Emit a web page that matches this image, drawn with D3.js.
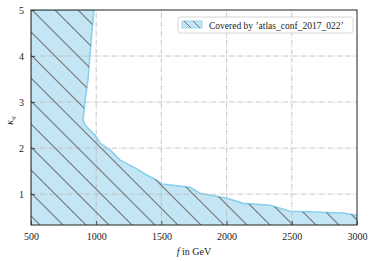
<!DOCTYPE html>
<html>
<head>
<meta charset="utf-8">
<title>atlas_conf_2017_022</title>
<style>
  body { margin: 0; background: #fff; }
  svg text { font-family: "Liberation Serif", "DejaVu Serif", serif; fill: #222; }
</style>
</head>
<body>
<main></main>
<script src="https://cdn.jsdelivr.net/npm/d3@7"></script>
<script>
// boundary of the covered region (f in GeV, kappa_q)
var boundaryF = [983, 968, 952, 937, 914, 899, 914, 952, 991, 1029, 1106, 1183, 1298, 1390, 1466, 1505, 1720, 1796, 2003, 2126, 2333, 2487, 2893, 3000];
var boundaryK = [5.0, 4.57, 4.0, 3.48, 3.02, 2.61, 2.50, 2.39, 2.28, 2.11, 1.96, 1.74, 1.57, 1.41, 1.30, 1.22, 1.15, 1.02, 0.91, 0.80, 0.76, 0.63, 0.59, 0.54];

var xTicks = [500, 1000, 1500, 2000, 2500, 3000];
var yTicks = [1, 2, 3, 4, 5];
var legendLabel = "Covered by \u2019atlas_conf_2017_022\u2019";

var width = 374, height = 261;
var margin = {top: 10, right: 17, bottom: 36, left: 31};

var svg = d3.select("main").append("svg")
    .attr("width", width)
    .attr("height", height);

var x = d3.scaleLinear().domain([500, 3000]).range([margin.left, width - margin.right]);
var y = d3.scaleLinear().domain([0.33, 5]).range([height - margin.bottom, margin.top]);

// hatch pattern + clip
var defs = svg.append("defs");
var pat = defs.append("pattern")
    .attr("id", "hatch")
    .attr("patternUnits", "userSpaceOnUse")
    .attr("width", 23).attr("height", 23)
    .attr("x", -1);
pat.append("path")
    .attr("d", "M0,0L23,23M-23,0L0,23M23,0L46,23M0,-23L23,0M0,23L23,46")
    .attr("stroke", "#727272")
    .attr("stroke-width", 1.1);

defs.append("clipPath").attr("id", "plotclip")
  .append("rect")
    .attr("x", x(500)).attr("y", y(5))
    .attr("width", x(3000) - x(500)).attr("height", y(0.33) - y(5));

// polygon: left edge, along boundary, down to bottom
var pts = [[500, 0.33], [500, 5]];
boundaryF.forEach(function (f, i) { pts.push([f, boundaryK[i]]); });
pts.push([3000, 0.33]);

var area = d3.line()
    .x(function (d) { return x(d[0]); })
    .y(function (d) { return y(d[1]); });

var plot = svg.append("g").attr("clip-path", "url(#plotclip)");

plot.append("path")
    .datum(pts)
    .attr("d", area)
    .attr("fill", "#c4e5f4")
    .attr("stroke", "#88d0ee")
    .attr("stroke-width", 1.6);

// grid (dash-dot)
var gridStyle = function (sel) {
  sel.attr("stroke", "#b8b8b8")
     .attr("stroke-width", 0.8)
     .attr("stroke-dasharray", "5,1.5,1,1.5");
};
plot.selectAll("line.gx")
    .data(xTicks.slice(1, -1))
    .enter().append("line")
    .attr("class", "gx")
    .attr("x1", function (d) { return x(d); })
    .attr("x2", function (d) { return x(d); })
    .attr("y1", y(0.33)).attr("y2", y(5))
    .call(gridStyle);
plot.selectAll("line.gy")
    .data(yTicks.slice(0, -1))
    .enter().append("line")
    .attr("class", "gy")
    .attr("y1", function (d) { return y(d); })
    .attr("y2", function (d) { return y(d); })
    .attr("x1", x(500)).attr("x2", x(3000))
    .call(gridStyle);

// hatch on top
plot.append("path")
    .datum(pts)
    .attr("d", area)
    .attr("fill", "url(#hatch)")
    .attr("stroke", "none");

// axes, ticks pointing inward
var xAxis = d3.axisBottom(x).tickValues(xTicks).tickSize(-4).tickPadding(8).tickFormat(d3.format("d"));
var xMinor = d3.axisBottom(x).tickValues(d3.range(500, 3001, 100)).tickSize(-2).tickFormat("");
var yAxis = d3.axisLeft(y).tickValues(yTicks).tickSize(-4).tickPadding(7).tickFormat(d3.format("d"));
var yMinor = d3.axisLeft(y).tickValues(d3.range(0.4, 5.01, 0.2)).tickSize(-2).tickFormat("");

var gx = svg.append("g").attr("transform", "translate(0," + y(0.33) + ")");
gx.call(xMinor);
gx.call(xAxis);
var gy = svg.append("g").attr("transform", "translate(" + x(500) + ",0)");
gy.call(yMinor);
gy.call(yAxis);

svg.selectAll(".domain").remove();
svg.selectAll(".tick line").attr("stroke", "#333").attr("stroke-width", 0.8);
svg.selectAll(".tick text").attr("font-size", 10).attr("font-family", "Liberation Serif, serif").attr("fill", "#333");

// frame
svg.append("rect")
    .attr("x", x(500)).attr("y", y(5))
    .attr("width", x(3000) - x(500)).attr("height", y(0.33) - y(5))
    .attr("fill", "none").attr("stroke", "#222").attr("stroke-width", 1);

// axis labels
var xl = svg.append("text")
    .attr("x", (x(500) + x(3000)) / 2)
    .attr("y", 255)
    .attr("text-anchor", "middle")
    .attr("font-size", 10);
xl.append("tspan").attr("font-style", "italic").text("f");
xl.append("tspan").text(" in GeV");

var yl = svg.append("text")
    .attr("transform", "translate(13," + y(2.6) + ") rotate(-90)")
    .attr("text-anchor", "middle")
    .attr("font-size", 10);
yl.append("tspan").attr("font-style", "italic").text("\u03ba");
yl.append("tspan").attr("font-style", "italic").attr("font-size", 7).attr("dy", 2).text("q");

// legend
var lg = svg.append("g").attr("transform", "translate(178,17)");
lg.append("rect")
    .attr("width", 175).attr("height", 16).attr("rx", 2)
    .attr("fill", "#fff").attr("fill-opacity", 0.85)
    .attr("stroke", "#ccc").attr("stroke-width", 0.8);
lg.append("rect")
    .attr("x", 4).attr("y", 4).attr("width", 20).attr("height", 7)
    .attr("fill", "#c4e5f4").attr("stroke", "#88d0ee").attr("stroke-width", 0.8);
lg.selectAll("line.lh")
    .data([0, 9])
    .enter().append("line")
    .attr("x1", function (d) { return 6 + d; }).attr("y1", 4)
    .attr("x2", function (d) { return 13 + d; }).attr("y2", 11)
    .attr("stroke", "#727272").attr("stroke-width", 1);
lg.append("text")
    .attr("x", 31).attr("y", 11.5)
    .attr("font-size", 9.5)
    .text(legendLabel);
</script>
</body>
</html>
